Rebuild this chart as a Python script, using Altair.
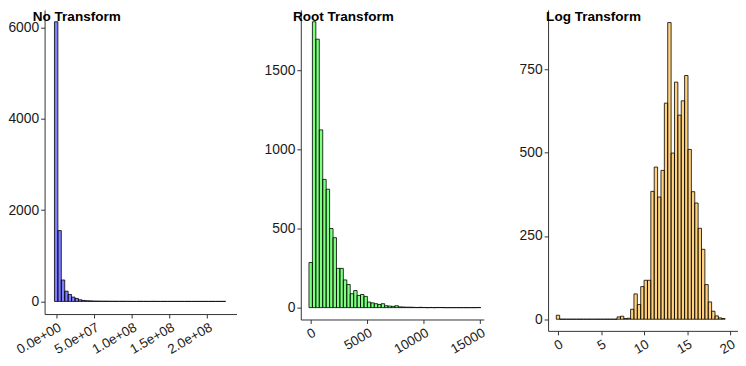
import altair as alt
import pandas as pd

# ---------------- data ----------------
titles = ["No Transform", "Root Transform", "Log Transform"]

# 50 histogram bins per panel (counts), bins centred from min to max
raw_counts = [6123, 1552, 469, 224, 152, 94, 65, 36, 22, 15,
              12, 9, 7, 5, 5, 4, 3, 3, 2, 2,
              2, 1, 1, 0, 1, 1, 1, 0, 1, 1,
              0, 0, 0, 0, 0, 0, 0, 0, 0, 0,
              0, 0, 0, 0, 0, 0, 0, 0, 0, 1]
root_counts = [285, 1806, 1696, 1123, 810, 748, 500, 442, 248, 248,
               175, 146, 88, 108, 77, 83, 71, 35, 30, 25,
               20, 25, 12, 10, 8, 12, 5, 4, 3, 3,
               2, 1, 2, 1, 0, 1, 0, 1, 1, 0,
               0, 0, 0, 0, 0, 0, 0, 0, 0, 1]
log_counts = [12, 0, 0, 0, 0, 0, 0, 0, 0, 0,
              0, 0, 0, 0, 0, 0, 0, 0, 7, 9,
              2, 3, 30, 76, 44, 98, 117, 117, 384, 457,
              367, 447, 649, 891, 499, 712, 613, 656, 732, 510,
              383, 349, 273, 210, 104, 52, 24, 10, 4, 2]

raw_range = [1, 2.2225e8]
root_range = [1, 14908]
log_range = [0, 19.22]

raw_xticks = [0, 5e7, 1e8, 1.5e8, 2e8]
raw_xlabels = ["0.0e+00", "5.0e+07", "1.0e+08", "1.5e+08", "2.0e+08"]
root_xticks = [0, 5000, 10000, 15000]
log_xticks = [0, 5, 10, 15, 20]
raw_yticks = [0, 2000, 4000, 6000]
root_yticks = [0, 500, 1000, 1500]
log_yticks = [0, 250, 500, 750]

FONT = "Liberation Sans"
AXIS_COL = "#333333"
LABEL_COL = "#1a1a1a"


def bins_df(counts, rng):
    lo, hi = rng
    w = (hi - lo) / (len(counts) - 1)
    rows = []
    for k, c in enumerate(counts):
        centre = lo + k * w
        rows.append({"x0": centre - w / 2, "x1": centre + w / 2, "count": c})
    return pd.DataFrame(rows)


def label_expr(values, labels):
    expr = "''"
    for v, l in reversed(list(zip(values, labels))):
        expr = f"abs(datum.value - {v}) < 1 ? '{l}' : ({expr})"
    return expr


def panel(counts, rng, title, fill, xdom, ydom, w, h, xticks, yticks,
          title_dx, xlabels=None):
    df = bins_df(counts, rng)
    axis_common = dict(title=None, grid=False, domainColor=AXIS_COL,
                       domainWidth=1, tickColor=AXIS_COL, tickSize=4,
                       tickWidth=1, labelColor=LABEL_COL, labelFont=FONT,
                       labelOverlap=False, labelFlush=False)
    xkw = dict(values=xticks, labelAngle=330, labelAlign="right",
               labelBaseline="top", labelPadding=2, labelFontSize=13.5,
               format="d", **axis_common)
    if xlabels is not None:
        xkw["labelExpr"] = label_expr(xticks, xlabels)
    xaxis = alt.Axis(**xkw)
    yaxis = alt.Axis(values=yticks, labelPadding=2, labelFontSize=14,
                     format="d", **axis_common)
    bars = alt.Chart(df).mark_bar(
        fill=fill, fillOpacity=0.5, stroke="black", strokeWidth=0.8
    ).encode(
        x=alt.X("x0:Q", scale=alt.Scale(domain=xdom, nice=False, zero=False),
                axis=xaxis),
        x2="x1:Q",
        y=alt.Y("count:Q", scale=alt.Scale(domain=ydom, nice=False, zero=False),
                axis=yaxis),
        y2=alt.datum(0),
    )
    txt = alt.Chart(pd.DataFrame({"t": [title]})).mark_text(
        align="left", baseline="alphabetic", fontSize=13.7,
        fontWeight="bold", font=FONT, color="black"
    ).encode(text="t:N", x=alt.value(title_dx), y=alt.value(11))
    return alt.layer(bars, txt).properties(width=w, height=h)


p1 = panel(raw_counts, raw_range, titles[0], "#0000ff",
           [-1.533e7, 2.389e8], [-277, 6383], 194, 307.5,
           raw_xticks, raw_yticks, -12, raw_xlabels)
p2 = panel(root_counts, root_range, titles[1], "#00ff00",
           [-876, 15323], [-75, 1881], 185, 313,
           root_xticks, root_yticks, -8)
p3 = panel(log_counts, log_range, titles[2], "#ffa500",
           [-1.149, 21.6], [-35, 929], 198, 324.5,
           log_xticks, log_yticks, -2)

# fixed canvas 738 x 350 (page 746 x 366 with its 8px margin); the plot
# origin sits 37px in so the first y axis lands where the reference has it
chart = alt.hconcat(p1, p2, p3, spacing=65, bounds="flush").properties(
    autosize=alt.AutoSizeParams(type="none"),
    padding={"left": 37, "top": 0, "right": 701, "bottom": 350},
).configure(background="white", view=alt.ViewConfig(stroke=None))

chart.save("out.html", embed_options={"renderer": "svg", "actions": False})
